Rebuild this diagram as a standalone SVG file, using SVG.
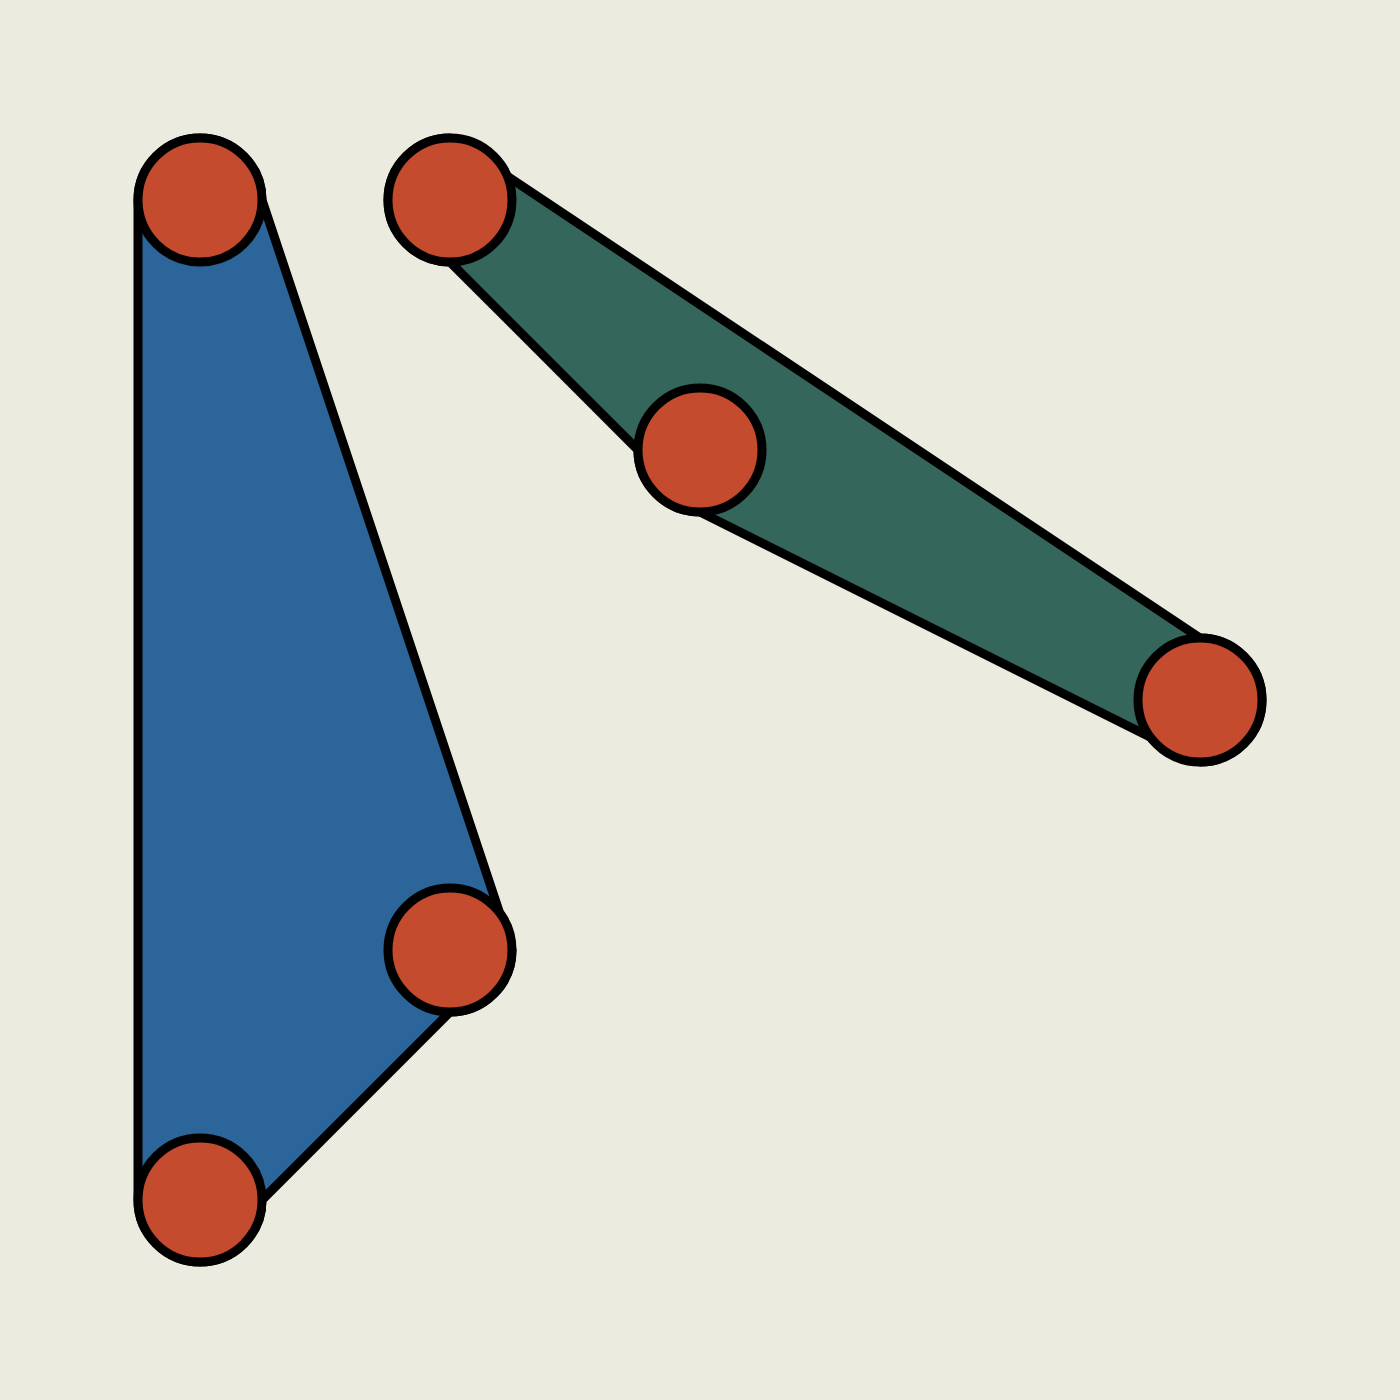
<svg xmlns="http://www.w3.org/2000/svg" width="1400" height="1400" viewBox="0 0 1400 1400">
<style>
.hull{stroke:#000;stroke-width:9;stroke-linejoin:round}
.node{fill:#C44B2D;stroke:#000;stroke-width:9}
</style>
<rect width="1400" height="1400" fill="#EBEBDF"/>
<g id="connectors">
<path id="hull-blue" class="hull" fill="#2B6599" d="M138,200 A62,62 0 0 1 262,200 L512,950 A62,62 0 0 1 450,1012 L262,1200 A62,62 0 0 1 138,1200 Z"/>
<path id="hull-green" class="hull" fill="#35665C" d="M450,138 L1200,638 A62,62 0 0 1 1200,762 L700,512 A62,62 0 0 1 638,450 L450,262 A62,62 0 0 1 450,138 Z"/>
</g>
<g id="node-a"><circle class="node" cx="200" cy="200" r="62"/></g>
<g id="node-b"><circle class="node" cx="450" cy="950" r="62"/></g>
<g id="node-c"><circle class="node" cx="200" cy="1200" r="62"/></g>
<g id="node-d"><circle class="node" cx="450" cy="200" r="62"/></g>
<g id="node-e"><circle class="node" cx="700" cy="450" r="62"/></g>
<g id="node-f"><circle class="node" cx="1200" cy="700" r="62"/></g>
</svg>
